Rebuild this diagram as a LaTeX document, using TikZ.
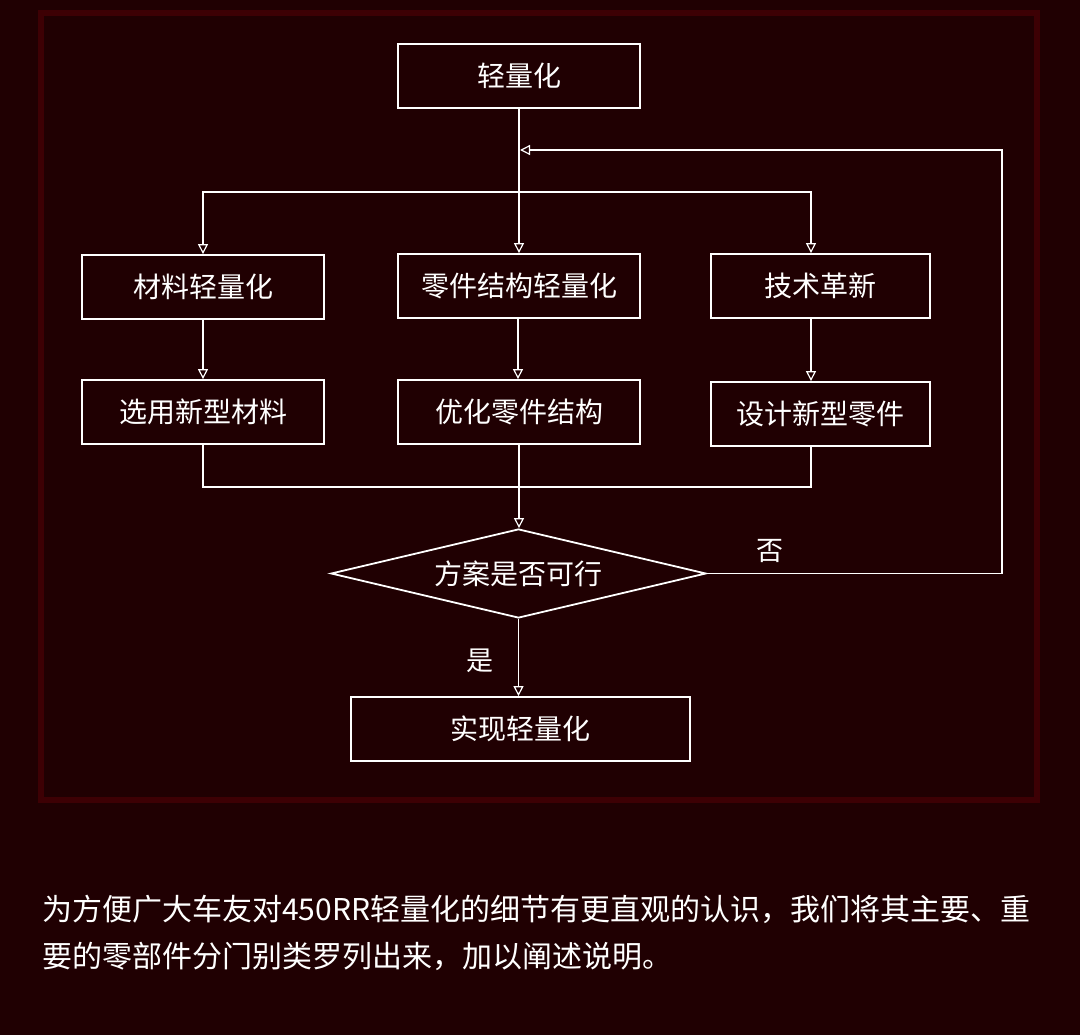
\documentclass[tikz,border=0pt]{standalone}
\usepackage{fontspec}
\setmainfont{Noto Sans CJK SC}
\usetikzlibrary{arrows.meta,shapes.geometric}
\definecolor{bgc}{HTML}{200002}
\definecolor{framec}{HTML}{3D0004}
\tikzset{
  box/.style={draw=white, line width=1.8pt, text=white, inner sep=0pt, minimum height=64pt, font=\fontsize{28}{32}\selectfont},
  conn/.style={draw=white, line width=1.5pt},
  arr/.style={conn, -{Triangle[open, length=10pt, width=10pt, line width=1.2pt]}},
  lbl/.style={text=white, font=\fontsize{27}{30}\selectfont, inner sep=0pt},
  para/.style={text=white, font=\fontsize{30}{46}\selectfont, inner sep=0pt, anchor=base west}
}
\begin{document}
\begin{tikzpicture}[x=1pt,y=-1pt]
\fill[bgc] (0,0) rectangle (1080,1035);
\useasboundingbox (0,0) rectangle (1080,1035);
\draw[framec, line width=6pt] (41,13) rectangle (1037,800);

\node[box, minimum width=242pt] (top) at (519,76) {轻量化};
\node[box, minimum width=242pt] (m1) at (203,287) {材料轻量化};
\node[box, minimum width=242pt] (m2) at (519,286) {零件结构轻量化};
\node[box, minimum width=219pt] (m3) at (820.5,286) {技术革新};
\node[box, minimum width=242pt] (b1) at (203,412) {选用新型材料};
\node[box, minimum width=242pt] (b2) at (519,412) {优化零件结构};
\node[box, minimum width=219pt] (b3) at (820.5,414) {设计新型零件};
\node[draw=white, line width=1.8pt, text=white, shape=diamond, aspect=4.21, inner sep=0pt, minimum width=375pt, minimum height=89pt, font=\fontsize{28}{32}\selectfont] (dec) at (518.5,573.5) {方案是否可行};
\node[box, minimum width=339pt] (fin) at (520.5,729) {实现轻量化};

\coordinate (split) at (519,192);
\coordinate (loopin) at (520,150);
\coordinate (merge) at (519,487);
\coordinate (loopr) at (1002,573.5);
\coordinate (loopt) at (1002,150);

\draw[arr] (top.south) -- (m2.north);
\draw[arr] (split) -| (m1.north);
\draw[arr] (split) -| ([xshift=-9.5pt]m3.north);
\draw[arr] (m1.south) -- (b1.north);
\draw[arr] ([xshift=-1pt]m2.south) -- ([xshift=-1pt]b2.north);
\draw[arr] ([xshift=-9.5pt]m3.south) -- ([xshift=-9.5pt]b3.north);
\draw[conn] (b1.south) |- (merge);
\draw[conn] ([xshift=-9.5pt]b3.south) |- (merge);
\draw[arr] (b2.south) -- (b2.south |- dec.north);
\draw[arr] (dec.south) -- (dec.south |- fin.north);
\draw[arr] (dec.east) -- (loopr) -- (loopt) -- (loopin);

\node[lbl] (no) at (770,551) {否};
\node[lbl] (yes) at (480,661) {是};

\node[para] (p1) at (42,920) {为方便广大车友对450RR轻量化的细节有更直观的认识，我们将其主要、重};
\node[para] (p2) at (42,967) {要的零部件分门别类罗列出来，加以阐述说明。};
\end{tikzpicture}
\end{document}
